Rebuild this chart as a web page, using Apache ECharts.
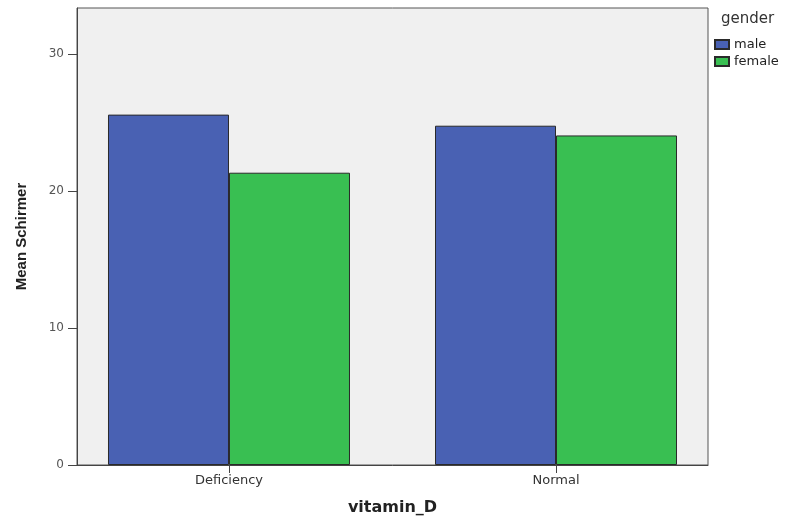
<!DOCTYPE html>
<html><head><meta charset="utf-8">
<script src="https://cdn.jsdelivr.net/npm/echarts@6/dist/echarts.min.js"></script>
<style>html,body{margin:0;padding:0;background:#fff}#c{width:785px;height:517px}</style>
</head><body><div id="c"></div>
<script>
const categories = ['Deficiency', 'Normal'];
const seriesNames = ['male', 'female'];
const maleValues = [25.57, 24.76];
const femaleValues = [21.33, 24.05];
const yTicks = [0, 10, 20, 30];

const chart = echarts.init(document.getElementById('c'), null, {renderer: 'canvas'});
const pos = categories.map((c, i) => i);
chart.setOption({
  animation: false,
  backgroundColor: '#ffffff',
  title: {text: 'gender', left: 721, top: 12, padding: 0, textStyle: {fontFamily: 'DejaVu Sans', fontSize: 15, fontWeight: 'normal', color: '#333'}},
  legend: {
    data: seriesNames, orient: 'vertical', left: 714, top: 38, padding: 0, itemWidth: 14, itemHeight: 9, itemGap: 4,
    icon: 'rect', textStyle: {fontFamily: 'DejaVu Sans', fontSize: 13, color: '#222'}
  },
  grid: {left: 77, right: 77, top: 8, bottom: 52, outerBoundsMode: 'none', containLabel: false, show: true, backgroundColor: '#f0f0f0', borderColor: '#555', borderWidth: 1},
  xAxis: {
    type: 'value', min: -0.4648, max: 1.4648,
    name: 'vitamin_D', nameLocation: 'middle', nameGap: 34,
    nameTextStyle: {fontFamily: 'DejaVu Sans', fontWeight: 'bold', fontSize: 16, color: '#222', lineHeight: 18},
    axisLine: {show: true, onZero: false, lineStyle: {color: '#444'}},
    axisTick: {show: true, inside: false, length: 8, customValues: pos, lineStyle: {color: '#444'}},
    axisLabel: {customValues: pos, formatter: v => categories[Math.round(v)] || '', fontFamily: 'DejaVu Sans', fontSize: 13, color: '#333', margin: 9},
    splitLine: {show: false}
  },
  yAxis: {
    type: 'value', min: 0, max: 33.35,
    name: 'Mean Schirmer', nameLocation: 'middle', nameGap: 48, nameRotate: 90,
    nameTextStyle: {fontFamily: 'Liberation Sans', fontWeight: 'bold', fontSize: 15, color: '#222'},
    axisLine: {show: true, onZero: false, lineStyle: {color: '#444'}},
    axisTick: {show: true, length: 9, customValues: yTicks, lineStyle: {color: '#444'}},
    axisLabel: {customValues: yTicks, fontFamily: 'DejaVu Sans', fontSize: 12, color: '#555', margin: 13},
    splitLine: {show: false}
  },
  series: [
    {name: 'male', type: 'bar', data: pos.map((p, i) => [p, maleValues[i]]), barWidth: 121, barGap: '0%',
     itemStyle: {color: '#4961b3', borderColor: '#2a2a2a', borderWidth: 1}},
    {name: 'female', type: 'bar', data: pos.map((p, i) => [p, femaleValues[i]]), barWidth: 121, barGap: '0%',
     itemStyle: {color: '#39bf52', borderColor: '#2a2a2a', borderWidth: 1}}
  ]
});
</script></body></html>
